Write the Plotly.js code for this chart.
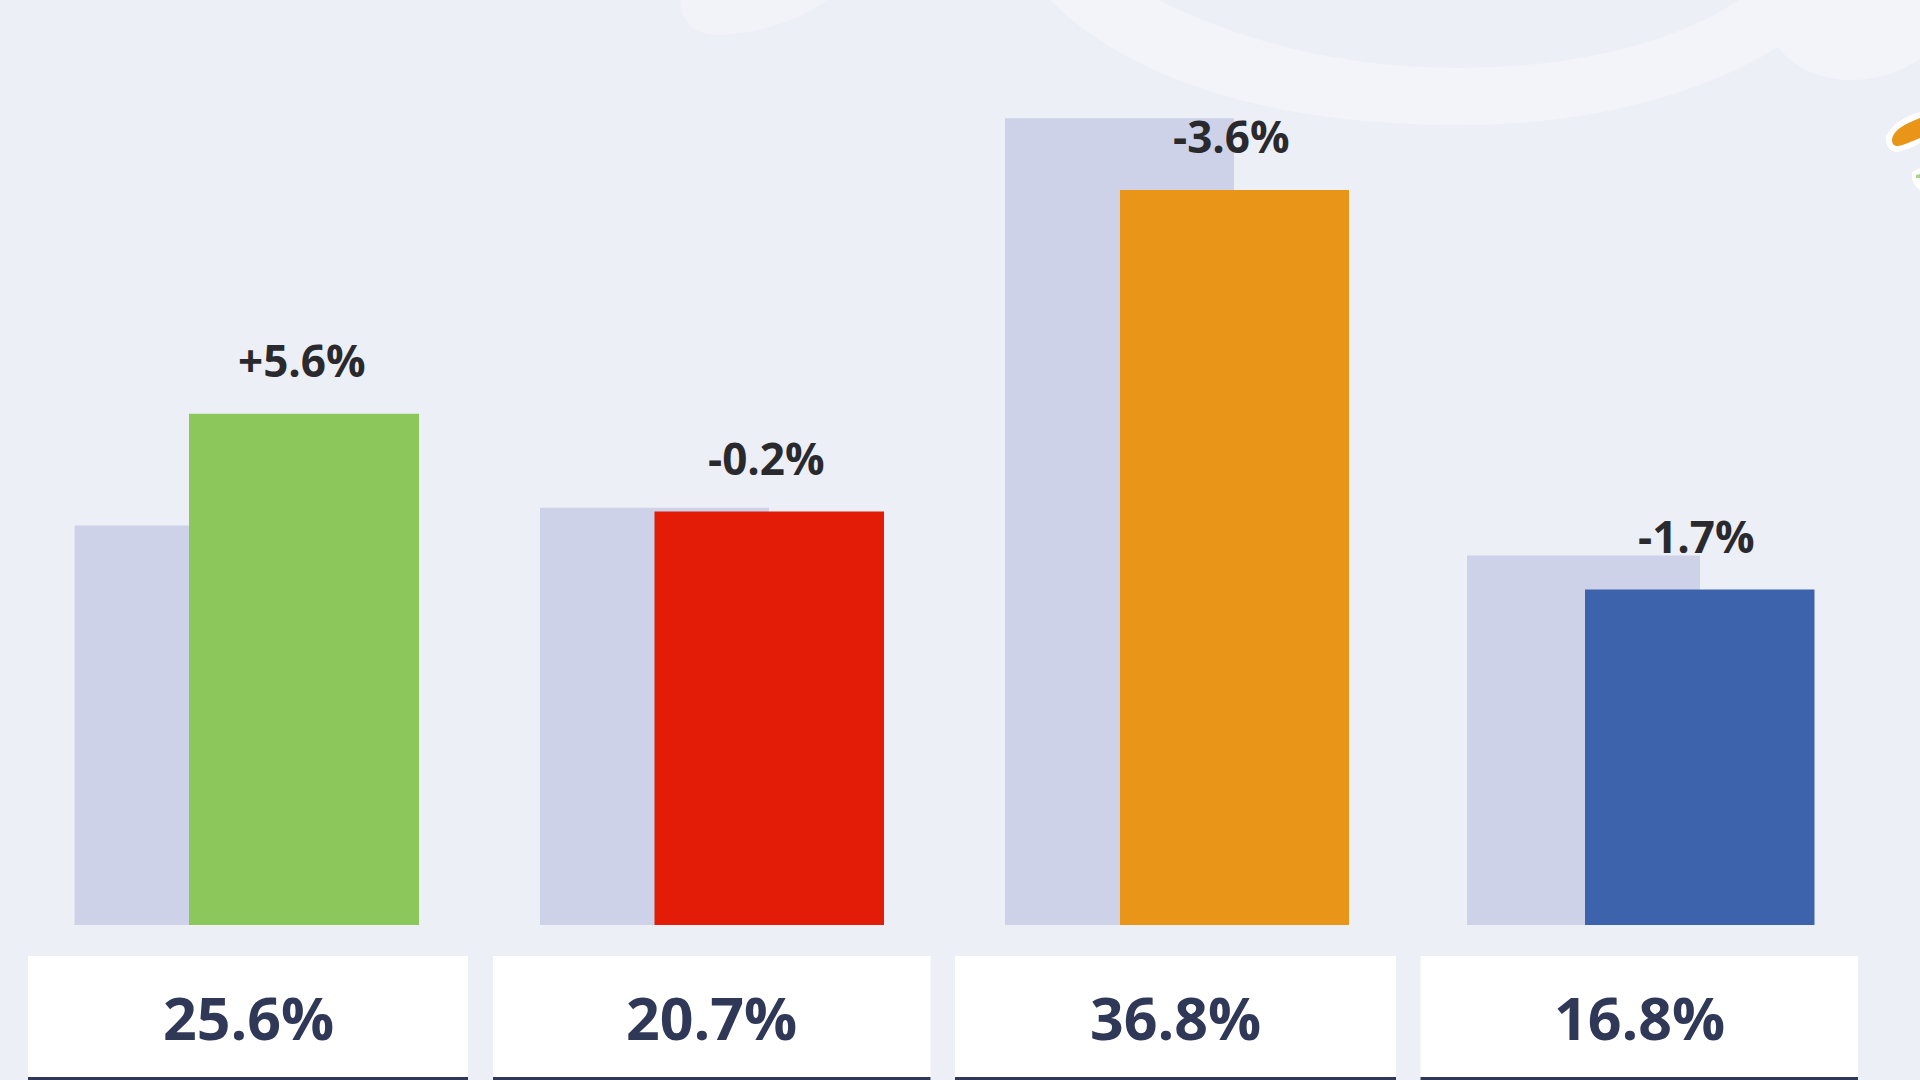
<!DOCTYPE html>
<html>
<head>
<meta charset="utf-8">
<script src="https://cdn.plot.ly/plotly-3.0.1.min.js"></script>
<style>html,body{margin:0;padding:0;background:#edeff7;overflow:hidden}#chart{width:1920px;height:1080px}</style>
</head>
<body>
<div id="chart"></div>
<script>
var categories = ['A', 'B', 'C', 'D'];
var previousValues = [20.0, 20.9, 40.4, 18.5];
var currentValues = [25.6, 20.7, 36.8, 16.8];
var changeLabels = ['+5.6%', '-0.2%', '-3.6%', '-1.7%'];
var barColors = ['#8cc75b', '#e21c06', '#e99517', '#3e63ad'];
var totalLabels = ['25.6%', '20.7%', '36.8%', '16.8%'];

var W = 1920, H = 1080;
var step = 465, firstCentre = 246.5;
var pxPerUnit = 19.97, baseline = 925;
var prevLeft = [74.5, 540, 1005, 1467], prevRight = [304, 769, 1234, 1700];
var curLeft = [189, 654.5, 1120, 1585], curRight = [419, 884, 1349, 1814.5];
var cardLeft = [28, 493, 955, 1420.5], cardRight = [468, 930.5, 1396, 1858];
var cardTop = 956, cardLine = 1077;

function offs(l){return l.map(function(v,i){return (v-(firstCentre+step*i))/step;});}
function wids(l,r){return l.map(function(v,i){return (r[i]-v)/step;});}
function P(s){ // pixel path -> paper path
  return s.replace(/(-?[\d.]+),(-?[\d.]+)/g,function(m,x,y){return (x/W)+','+(1-y/H);});
}
function deco(path,fill){return {type:'path',xref:'paper',yref:'paper',layer:'below',path:P(path),fillcolor:fill,line:{width:0}};}

var shapes = [
  deco('M680,0 C682,25 695,35 720,35 C760,33 800,20 827,0 Z','#f2f3f9'),
  deco('M1050,0 C1090,40 1200,125 1458,125 C1590,125 1700,95 1778,47 C1795,70 1825,80 1851,80 C1880,80 1905,70 1920,58 L1920,0 L1739,0 C1680,40 1580,68 1458,68 C1310,68 1210,25 1158,0 Z','#f2f4f9')
];
shapes.push(deco('M1886,136 C1892,124 1905,116 1920,112 L1920,143 C1912,148 1905,150 1897,152 C1890,152 1885,145 1886,136 Z','#ffffff'));
shapes.push(deco('M1892,140 C1893,130 1905,124 1920,118 L1920,138 C1912,141 1905,145 1898,146 C1894,146 1892,144 1892,140 Z','#e99517'));
shapes.push(deco('M1912,172 L1920,168 L1920,190 C1914,186 1911,180 1912,172 Z','#ffffff'));
shapes.push(deco('M1916,175 L1920,174 L1920,178 L1916,178 Z','#a9d58a'));
cardLeft.forEach(function(l,i){
  shapes.push({type:'rect',xref:'paper',yref:'paper',layer:'below',x0:l/W,x1:cardRight[i]/W,y0:0,y1:1-cardTop/H,fillcolor:'#ffffff',line:{width:0}});
  shapes.push({type:'rect',xref:'paper',yref:'paper',layer:'below',x0:l/W,x1:cardRight[i]/W,y0:0,y1:1-cardLine/H,fillcolor:'#2f3857',line:{width:0}});
});

var annotations = [];
changeLabels.forEach(function(t,i){
  annotations.push({x:i,y:currentValues[i],xref:'x',yref:'y',text:t,showarrow:false,
    xanchor:'center',yanchor:'middle',xshift:55,yshift:54,
    font:{family:'Open Sans',size:44,weight:700,color:'#2a2a2e'}});
});
totalLabels.forEach(function(t,i){
  annotations.push({x:(cardLeft[i]+cardRight[i])/2/W,y:1-1017/H,xref:'paper',yref:'paper',text:t,showarrow:false,
    xanchor:'center',yanchor:'middle',
    font:{family:'Open Sans',size:59,weight:700,color:'#2f3857'}});
});

var traces = [
  {type:'bar',x:categories,y:previousValues,offset:offs(prevLeft),width:wids(prevLeft,prevRight),
   marker:{color:'#cdd2e8',line:{width:0}},hoverinfo:'skip'},
  {type:'bar',x:categories,y:currentValues,offset:offs(curLeft),width:wids(curLeft,curRight),
   marker:{color:barColors,line:{width:0}},hoverinfo:'skip'}
];

var layout = {
  width:W,height:H,margin:{l:0,r:0,t:0,b:0,pad:0},
  paper_bgcolor:'#edeff7',plot_bgcolor:'rgba(0,0,0,0)',
  barmode:'overlay',showlegend:false,
  xaxis:{type:'category',categoryorder:'array',categoryarray:categories,
    range:[-firstCentre/step,(W-firstCentre)/step],visible:false,fixedrange:true},
  yaxis:{range:[(baseline-H)/pxPerUnit,baseline/pxPerUnit],visible:false,fixedrange:true,zeroline:false},
  shapes:shapes,annotations:annotations
};
Plotly.newPlot('chart',traces,layout,{displayModeBar:false,staticPlot:true});
</script>
</body>
</html>
